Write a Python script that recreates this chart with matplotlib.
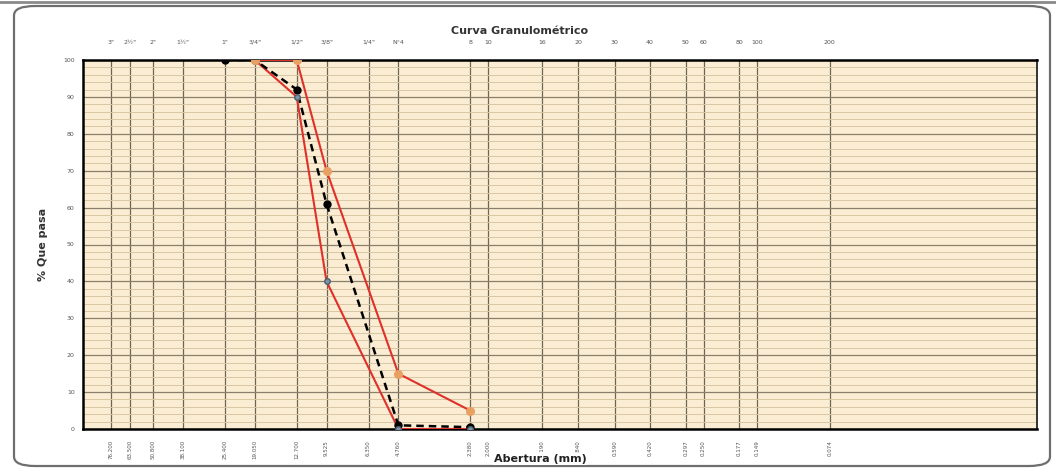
import matplotlib
matplotlib.use("Agg")
import matplotlib.pyplot as plt
from matplotlib.patches import FancyBboxPatch
from matplotlib.ticker import FixedLocator, NullFormatter

# ---- data ----
sieve_names = ['3"', '2½"', '2"', '1½"', '1"', '3/4"', '1/2"', '3/8"', '1/4"', 'N°4',
               '8', '10', '16', '20', '30', '40', '50', '60', '80', '100', '200']
sieve_mm = [76.2, 63.5, 50.8, 38.1, 25.4, 19.05, 12.7, 9.525, 6.35, 4.76,
            2.38, 2.0, 1.19, 0.84, 0.59, 0.42, 0.297, 0.25, 0.177, 0.149, 0.074]

sample_mm = [25.4, 19.05, 12.7, 9.525, 4.76, 2.38]
sample_pass = [100, 100, 92, 61, 1, 0.5]

upper_mm = [19.05, 12.7, 9.525, 4.76, 2.38]
upper_pass = [100, 100, 70, 15, 5]

lower_mm = [19.05, 12.7, 9.525, 4.76, 2.38]
lower_pass = [100, 90, 40, 0, 0]

W, H = 1056, 472
fig = plt.figure(figsize=(W / 100, H / 100), dpi=100)
fig.patch.set_facecolor('white')

# rounded outer frame
frame = FancyBboxPatch((14 / W, 6 / H), (1036 / W), (460 / H),
                       boxstyle="round,pad=0,rounding_size=0.02",
                       transform=fig.transFigure, fill=False,
                       edgecolor='#6e6e6e', linewidth=1.6)
fig.patches.append(frame)
fig.add_artist(plt.Line2D([0, 1], [1 - 2 / H, 1 - 2 / H], transform=fig.transFigure,
                          color='#8a8a8a', linewidth=2))

ax = fig.add_axes([83 / W, 1 - 429 / H, (1037 - 83) / W, (429 - 60) / H])
ax.set_facecolor('#faedd3')
ax.set_xscale('log')
ax.set_xlim(100, 0.01)
ax.set_ylim(0, 100)

# grid
for s in sieve_mm:
    ax.axvline(s, color='#6f6658', linewidth=0.9, zorder=1)
for y in range(0, 101, 2):
    if y % 10 == 0:
        ax.axhline(y, color='#8c7f6a', linewidth=0.9, zorder=1)
    else:
        ax.axhline(y, color='#d9c6a2', linewidth=0.7, zorder=1)

# series
ax.plot(upper_mm, upper_pass, color='#e0302a', linewidth=1.5, zorder=3,
        marker='o', markersize=5.5, markerfacecolor='#e8a063', markeredgecolor='#e8a063')
ax.plot(lower_mm, lower_pass, color='#e0302a', linewidth=1.5, zorder=3)
ax.plot(sample_mm, sample_pass, color='black', linewidth=1.8, linestyle=(0, (3, 2)),
        zorder=4, marker='o', markersize=5, markerfacecolor='black', markeredgecolor='black')
ax.plot(lower_mm[1:], lower_pass[1:], linestyle='none', marker='o', markersize=4,
        markerfacecolor='#7d93a8', markeredgecolor='#4f5f70', zorder=5)
ax.plot(upper_mm[:1], upper_pass[:1], linestyle='none', marker='o', markersize=5.5,
        markerfacecolor='#e8a063', markeredgecolor='#e8a063', zorder=5)

# spines
for side in ['left', 'bottom', 'top']:
    ax.spines[side].set_linewidth(1.8)
    ax.spines[side].set_color('black')
ax.spines['right'].set_linewidth(1.4)
ax.spines['right'].set_color('#333333')

# y ticks
ax.set_yticks(range(0, 101, 10))
ax.tick_params(axis='y', length=0, labelsize=4.5, labelcolor='#555555', pad=6)

# bottom x ticks
ax.xaxis.set_major_locator(FixedLocator(sieve_mm))
ax.xaxis.set_minor_locator(FixedLocator([]))
ax.xaxis.set_minor_formatter(NullFormatter())
ax.set_xticklabels([f"{v:.3f}" for v in sieve_mm], rotation=90, fontsize=4.0,
                   color='#555555')
ax.tick_params(axis='x', length=0, pad=8)

# top labels
sec = ax.secondary_xaxis('top')
sec.xaxis.set_major_locator(FixedLocator(sieve_mm))
sec.xaxis.set_minor_locator(FixedLocator([]))
sec.set_xticklabels(sieve_names, fontsize=4.5, color='#555555')
sec.tick_params(axis='x', length=0, pad=11)
sec.spines['top'].set_visible(False)

# texts
fig.text(520 / W, 1 - 31 / H, 'Curva Granulométrico', ha='center', va='center',
         fontsize=8, fontweight='bold', color='#333333')
fig.text(43 / W, 1 - 244 / H, '% Que pasa', ha='center', va='center', rotation=90,
         fontsize=8, fontweight='bold', color='#333333')
fig.text(540 / W, 1 - 459 / H, 'Abertura (mm)', ha='center', va='center',
         fontsize=8, fontweight='bold', color='#222222', zorder=10,
         bbox=dict(facecolor='white', edgecolor='none', pad=0.5))

fig.savefig('out.png', dpi=100)
